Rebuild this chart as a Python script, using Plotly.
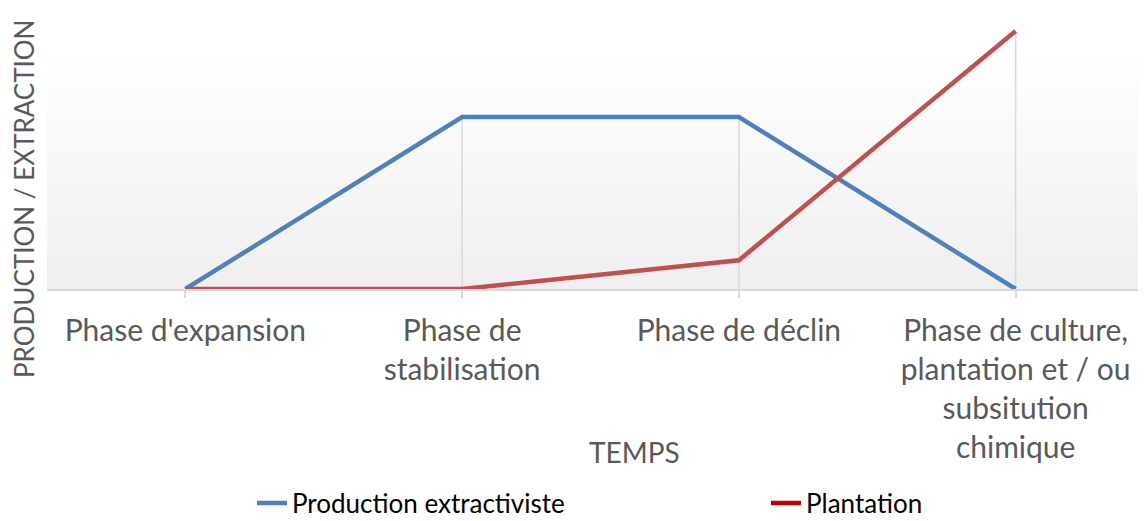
import plotly.graph_objects as go

categories = ["Phase d'expansion", "Phase de<br>stabilisation", "Phase de déclin",
              "Phase de culture,<br>plantation et / ou<br>subsitution<br>chimique"]
production = [0, 6, 6, 0]
plantation = [0, 0, 1, 9]
series_names = ["Production extractiviste", "Plantation"]
x_title = "TEMPS"
y_title = "PRODUCTION / EXTRACTION"

FONT = "Lato"
GRAY = "#595959"
BLUE = "#4F81BD"
RED = "#C0504D"
RED_LEGEND = "#C00000"

# the page puts the figure 8px in from the top-left corner
OFF = 8
W, H = 1146, 521
ML, MR, MT = 47 - OFF, 0, 0
MB = H - (289 - OFF)
PW, PH = W - ML - MR, H - MT - MB
n = len(categories)
xr = [-0.5, n - 0.5]
# value 9 sits 258px above the baseline
ymax = PH / 258 * 9
yr = [0, ymax]


def px_x(p):
    return (p - OFF - ML) / PW


def px_y(p):
    return (H - MB - (p - OFF)) / PH


fig = go.Figure()

# plot-area gradient background
fig.add_trace(go.Scatter(
    x=[xr[0], xr[1], xr[1], xr[0], xr[0]], y=[yr[0], yr[0], yr[1], yr[1], yr[0]],
    mode="lines", line=dict(width=0), fill="toself",
    fillgradient=dict(type="vertical",
                      colorscale=[[0, "#efefef"], [0.85, "#ffffff"], [1, "#ffffff"]]),
    hoverinfo="skip", showlegend=False))

# drop lines from the highest point of each category to the axis
dx, dy = [], []
for i in range(n):
    top = max(production[i], plantation[i])
    if top > 0:
        dx += [i, i, None]
        dy += [0, top, None]
fig.add_trace(go.Scatter(x=dx, y=dy, mode="lines",
                         line=dict(color="#d9d9d9", width=1.5),
                         hoverinfo="skip", showlegend=False))

xs = list(range(n))
fig.add_trace(go.Scatter(x=xs, y=production, mode="lines", name=series_names[0],
                         line=dict(color=BLUE, width=4.5), legend="legend"))
fig.add_trace(go.Scatter(x=xs, y=plantation, mode="lines", name=series_names[1],
                         line=dict(color=RED, width=4.5), showlegend=False))
fig.add_trace(go.Scatter(x=[None], y=[None], mode="lines", name=series_names[1],
                         line=dict(color=RED_LEGEND, width=4.5), legend="legend2"))

leg_common = dict(orientation="h", xanchor="left", yanchor="middle",
                  y=px_y(503), font=dict(family=FONT, size=26, color="black"),
                  bgcolor="rgba(0,0,0,0)")

fig.update_layout(
    width=W, height=H,
    margin=dict(l=ML, r=MR, t=MT, b=MB, autoexpand=False),
    paper_bgcolor="white", plot_bgcolor="white",
    font=dict(family=FONT, color=GRAY),
    showlegend=True,
    legend=dict(x=px_x(252), **leg_common),
    legend2=dict(x=px_x(766), **leg_common),
    xaxis=dict(
        range=xr, tickmode="array", tickvals=xs, ticktext=categories,
        tickson="boundaries", ticks="outside", ticklen=7, tickcolor="#d9d9d9", tickwidth=1.5,
        showgrid=False, zeroline=False, showline=True, linecolor="#d9d9d9", linewidth=2,
        tickfont=dict(family=FONT, size=30, color=GRAY), tickangle=0,
        ticklabelstandoff=7, automargin=False,
    ),
    yaxis=dict(range=yr, showticklabels=False, showgrid=False, zeroline=False,
               showline=False, ticks="", automargin=False),
    annotations=[
        dict(text=x_title, xref="paper", yref="paper",
             x=px_x(634), y=px_y(452),
             xanchor="center", yanchor="middle", showarrow=False,
             font=dict(family=FONT, size=28, color=GRAY)),
        dict(text=y_title, xref="paper", yref="paper", textangle=-90,
             x=px_x(24), y=px_y(199),
             xanchor="center", yanchor="middle", showarrow=False,
             font=dict(family=FONT, size=26, color=GRAY)),
    ],
)

fig.write_html("out.html")
